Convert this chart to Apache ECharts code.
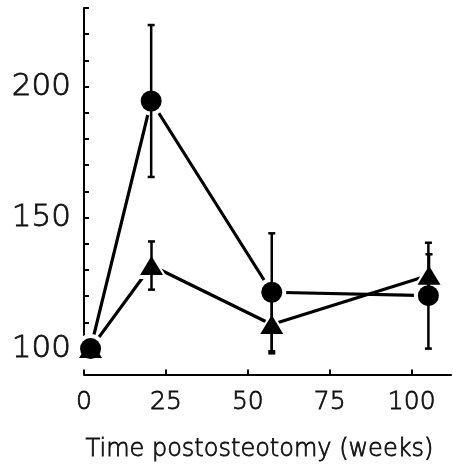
<!DOCTYPE html>
<html>
<head>
<meta charset="utf-8">
<script src="https://cdn.jsdelivr.net/npm/echarts@6/dist/echarts.min.js"></script>
<style>html,body{margin:0;padding:0;background:#fff}#c{width:453px;height:467px}</style>
</head>
<body>
<div id="c"></div>
<script>
// Data
const weeksCircle = [2, 20.5, 57.3, 105.1];
const circleValues = [100, 194.5, 121.5, 120.2];
const circleErrors = [0, 29, 22.5, 20.2];

const weeksTriangle = [2, 20.6, 57.3, 105.3];
const triangleValues = [100, 131.7, 109.2, 128];
const triangleErrors = [0, 9.2, 11, 8];

const xTickValues = [0, 25, 50, 75, 100];
const yLabelValues = [100, 150, 200];
const xAxisTitle = 'Time postosteotomy (weeks)';

const zip = (xs, ys) => xs.map((x, i) => [x, ys[i]]);
const zip3 = (xs, ys, es) => xs.map((x, i) => [x, ys[i], es[i]]);

const FONT = 'DejaVu Sans';
const INK = '#000';
const TEXT = '#111';
const textBase = { color: TEXT, fontFamily: FONT, fontWeight: 200, textBorderColor: TEXT, textBorderWidth: 0.8 };

function errorBars(params, api) {
  const x = api.value(0), y = api.value(1), e = api.value(2);
  if (!e) return null;
  const top = api.coord([x, y + e]);
  const bot = api.coord([x, y - e]);
  const cw = 3.5;
  const st = { stroke: INK, lineWidth: 2.5 };
  return {
    type: 'group',
    children: [
      { type: 'line', shape: { x1: top[0], y1: top[1], x2: bot[0], y2: bot[1] }, style: st },
      { type: 'line', shape: { x1: top[0] - cw, y1: top[1], x2: top[0] + cw, y2: top[1] }, style: st },
      { type: 'line', shape: { x1: bot[0] - cw, y1: bot[1], x2: bot[0] + cw, y2: bot[1] }, style: st }
    ]
  };
}

const chart = echarts.init(document.getElementById('c'));
chart.setOption({
  animation: false,
  backgroundColor: '#fff',
  grid: { left: 84, right: 2, top: 8, bottom: 113 },
  xAxis: {
    type: 'value',
    min: 0,
    max: 112,
    offset: 26,
    splitLine: { show: false },
    axisLine: { show: true, lineStyle: { color: INK, width: 2 } },
    axisTick: { show: true, inside: true, length: 5, lineStyle: { color: INK, width: 2 }, customValues: xTickValues },
    axisLabel: Object.assign({ customValues: xTickValues, fontSize: 25, margin: 15 }, textBase),
    name: xAxisTitle,
    nameLocation: 'middle',
    nameGap: 63,
    nameTextStyle: Object.assign({ fontSize: 24, padding: [0, 16, 0, 0] }, textBase)
  },
  yAxis: {
    type: 'value',
    min: 100,
    max: 230,
    interval: 10,
    splitLine: { show: false },
    axisLine: { show: true, lineStyle: { color: INK, width: 2 } },
    axisTick: { show: true, inside: true, length: 5, lineStyle: { color: INK, width: 2 } },
    axisLabel: Object.assign({
      fontSize: 31, margin: 13, padding: [4, 0, 0, 0],
      formatter: v => (yLabelValues.indexOf(v) >= 0 ? String(v) : '')
    }, textBase)
  },
  series: [
    { type: 'line', data: zip(weeksCircle, circleValues), symbol: 'none', z: 1,
      lineStyle: { color: INK, width: 3.2 } },
    { type: 'line', data: zip(weeksTriangle, triangleValues), symbol: 'none', z: 1,
      lineStyle: { color: INK, width: 3.2 } },
    { type: 'scatter', data: zip(weeksTriangle, triangleValues), symbol: 'triangle', symbolSize: [33, 27], z: 2,
      itemStyle: { color: '#fff', opacity: 1 }, silent: true },
    { type: 'scatter', data: zip(weeksCircle, circleValues), symbol: 'circle', symbolSize: 29, z: 2,
      itemStyle: { color: '#fff', opacity: 1 }, silent: true },
    { type: 'scatter', data: zip(weeksTriangle, triangleValues), symbol: 'triangle', symbolSize: [23, 19], z: 3,
      itemStyle: { color: INK, opacity: 1 } },
    { type: 'scatter', data: zip(weeksCircle, circleValues), symbol: 'circle', symbolSize: 21, z: 3,
      itemStyle: { color: INK, opacity: 1 } },
    { type: 'custom', data: zip3(weeksCircle, circleValues, circleErrors), renderItem: errorBars, z: 4,
      encode: { x: 0, y: 1 } },
    { type: 'custom', data: zip3(weeksTriangle, triangleValues, triangleErrors), renderItem: errorBars, z: 4,
      encode: { x: 0, y: 1 } }
  ]
});
</script>
</body>
</html>
